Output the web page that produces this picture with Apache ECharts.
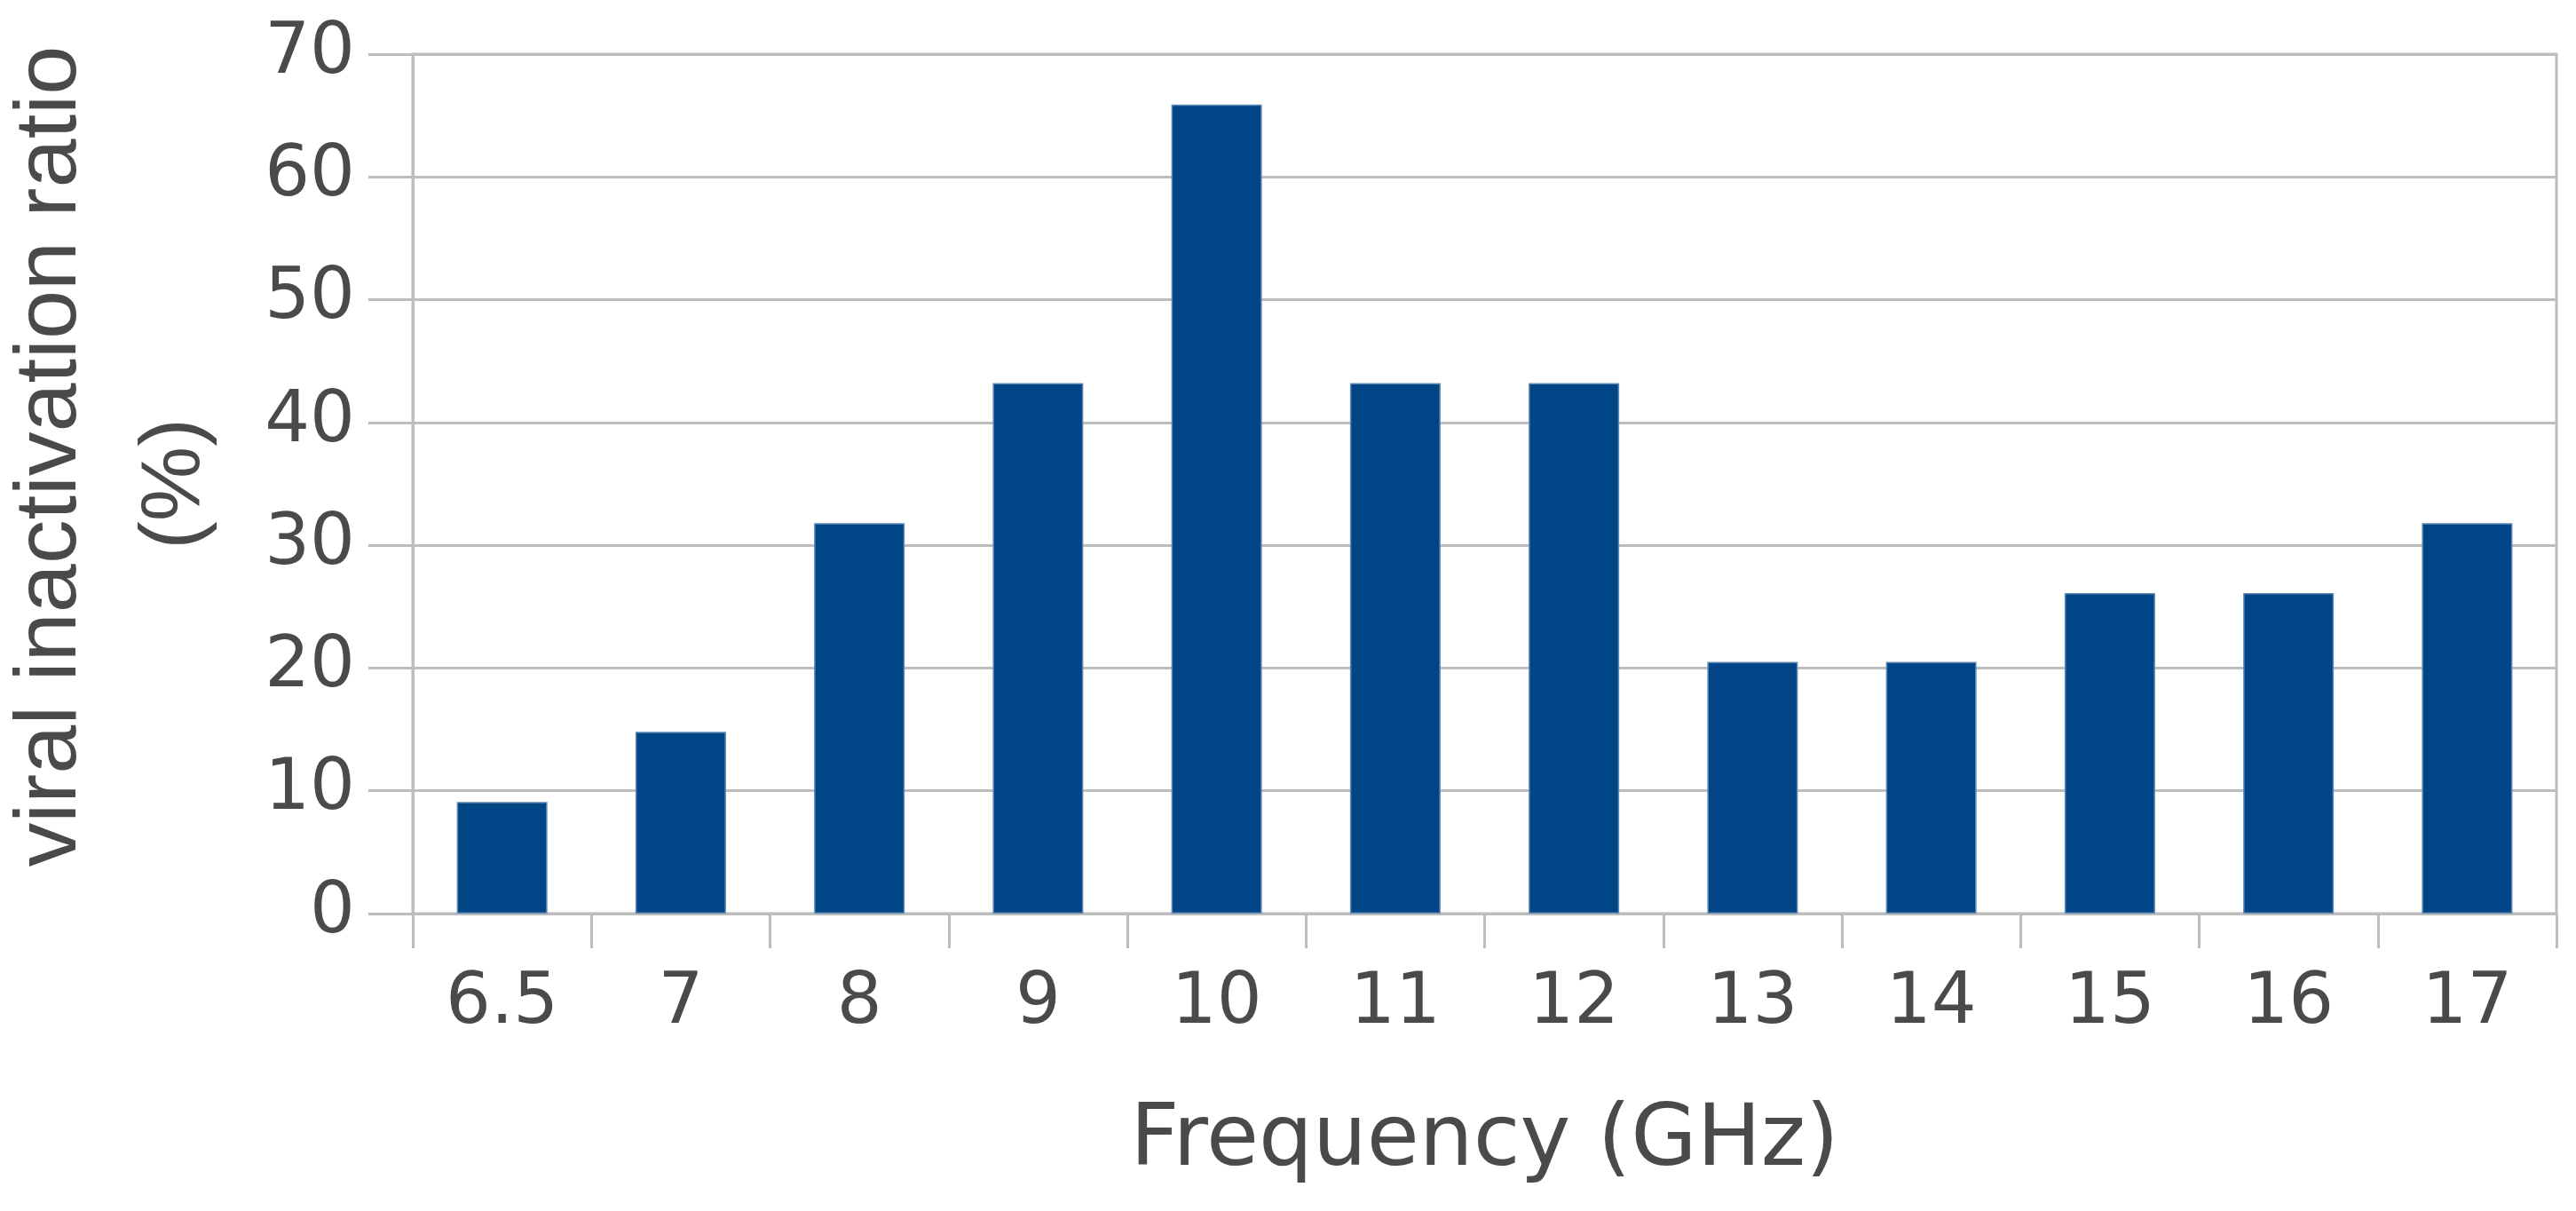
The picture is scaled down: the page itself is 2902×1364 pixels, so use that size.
<!DOCTYPE html>
<html>
<head>
<meta charset="utf-8">
<script src="https://cdn.jsdelivr.net/npm/echarts@6/dist/echarts.min.js"></script>
<style>
html,body{margin:0;padding:0;background:#fff;}
#chart{width:2902px;height:1364px;}
</style>
</head>
<body>
<div id="chart"></div>
<script>
var categories = ['6.5', '7', '8', '9', '10', '11', '12', '13', '14', '15', '16', '17'];
var ratioValues = [9.1, 14.8, 31.8, 43.2, 65.9, 43.2, 43.2, 20.5, 20.5, 26.1, 26.1, 31.8];
var yTicks = { min: 0, max: 70, interval: 10 };
var xTitle = 'Frequency (GHz)';
var yTitleLine1 = 'viral inactivation ratio';
var yTitleLine2 = '(%)';

var lineColor = '#bdbdbd';
var textColor = '#4a4a4a';

var chart = echarts.init(document.getElementById('chart'), null, { renderer: 'canvas' });
chart.setOption({
  backgroundColor: '#ffffff',
  animation: false,
  grid: {
    left: 465, right: 22, top: 61, bottom: 335,
    containLabel: false,
    outerBoundsMode: 'none',
    show: true, borderColor: lineColor, borderWidth: 3, backgroundColor: 'transparent'
  },
  xAxis: {
    type: 'category',
    data: categories,
    boundaryGap: true,
    axisLine: { show: true, lineStyle: { color: lineColor, width: 3 } },
    axisTick: { show: true, alignWithLabel: false, length: 39, lineStyle: { color: lineColor, width: 3 } },
    axisLabel: {
      show: true, margin: 62, color: textColor,
      fontFamily: 'DejaVu Sans', fontSize: 80, lineHeight: 80
    },
    splitLine: { show: false },
    name: xTitle,
    nameLocation: 'middle',
    nameGap: 210,
    nameTextStyle: { color: textColor, fontFamily: 'DejaVu Sans', fontSize: 96, lineHeight: 96 }
  },
  yAxis: {
    type: 'value',
    min: yTicks.min, max: yTicks.max, interval: yTicks.interval,
    axisLine: { show: true, lineStyle: { color: lineColor, width: 3 } },
    axisTick: { show: true, length: 50, lineStyle: { color: lineColor, width: 3 } },
    axisLabel: {
      show: true, margin: 65, color: textColor,
      fontFamily: 'DejaVu Sans', fontSize: 80, lineHeight: 80
    },
    splitLine: { show: true, lineStyle: { color: lineColor, width: 3 } },
    name: '{a|' + yTitleLine1 + '}\n{b|' + yTitleLine2 + '}',
    nameLocation: 'middle',
    nameRotate: 90,
    nameGap: 197,
    nameTextStyle: {
      color: textColor, fontFamily: 'Liberation Sans', fontSize: 99, lineHeight: 140, align: 'center',
      rich: {
        a: { color: textColor, fontFamily: 'Liberation Sans', fontSize: 99, lineHeight: 140, padding: [0, 0, 0, 62] },
        b: { color: textColor, fontFamily: 'Liberation Sans', fontSize: 95, lineHeight: 140 }
      }
    }
  },
  series: [{
    type: 'bar',
    data: ratioValues,
    barWidth: 102,
    itemStyle: { color: '#004586', borderColor: '#5d88b4', borderWidth: 1.5 },
    emphasis: { disabled: true }
  }]
});
</script>
</body>
</html>
